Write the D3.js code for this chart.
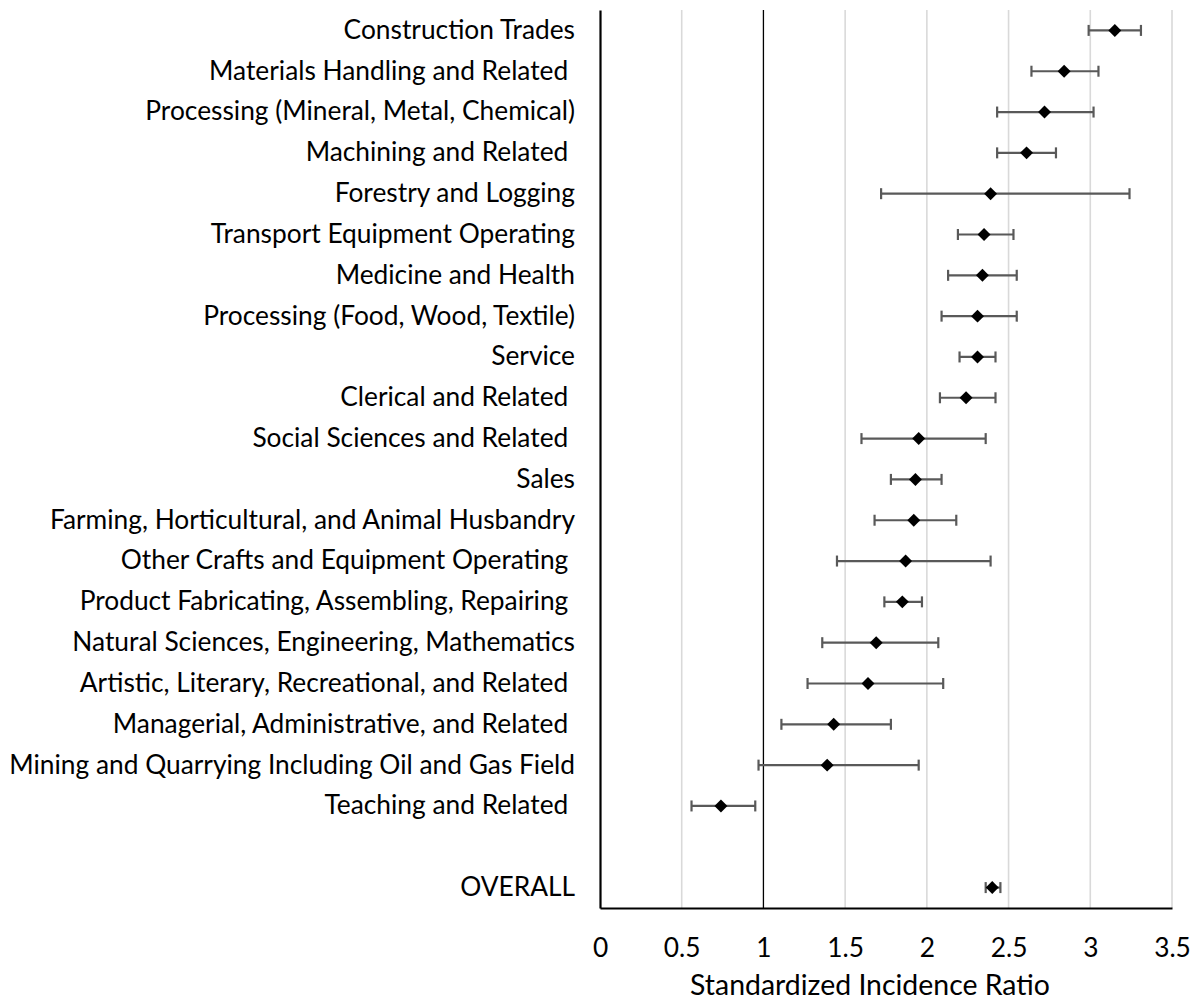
<!DOCTYPE html>
<html>
<head>
<meta charset="utf-8">
<script src="https://cdn.jsdelivr.net/npm/d3@7"></script>
<style>
  body { margin: 0; background: #fff; }
  svg { display: block; }
  text { font-family: Lato, "Open Sans", sans-serif; fill: #000; }
</style>
</head>
<body>
<svg id="chart" width="1191" height="1001"></svg>
<script>
// occupation groups, top to bottom (trailing spaces kept as in the source)
const occupations = [
  'Construction Trades',
  'Materials Handling and Related ',
  'Processing (Mineral, Metal, Chemical)',
  'Machining and Related ',
  'Forestry and Logging',
  'Transport Equipment Operating',
  'Medicine and Health',
  'Processing (Food, Wood, Textile)',
  'Service',
  'Clerical and Related ',
  'Social Sciences and Related ',
  'Sales',
  'Farming, Horticultural, and Animal Husbandry',
  'Other Crafts and Equipment Operating ',
  'Product Fabricating, Assembling, Repairing ',
  'Natural Sciences, Engineering, Mathematics',
  'Artistic, Literary, Recreational, and Related ',
  'Managerial, Administrative, and Related ',
  'Mining and Quarrying Including Oil and Gas Field',
  'Teaching and Related ',
  'OVERALL'
];
const sir = [3.15, 2.84, 2.72, 2.61, 2.39, 2.35, 2.34, 2.31, 2.31, 2.24, 1.95,
  1.93, 1.92, 1.87, 1.85, 1.69, 1.64, 1.43, 1.39, 0.74, 2.40];
const lower = [2.99, 2.64, 2.43, 2.43, 1.72, 2.19, 2.13, 2.09, 2.20, 2.08, 1.60,
  1.78, 1.68, 1.45, 1.74, 1.36, 1.27, 1.11, 0.97, 0.56, 2.36];
const upper = [3.31, 3.05, 3.02, 2.79, 3.24, 2.53, 2.55, 2.55, 2.42, 2.42, 2.36,
  2.09, 2.18, 2.39, 1.97, 2.07, 2.10, 1.78, 1.95, 0.95, 2.45];
const xTicks = [0, 0.5, 1, 1.5, 2, 2.5, 3, 3.5];
const xTitle = 'Standardized Incidence Ratio';

const margin = { top: 10, right: 19, bottom: 93, left: 600 };
const width = 1191 - margin.left - margin.right;
const height = 1001 - margin.top - margin.bottom;

const data = occupations.map((name, i) => ({ name, sir: sir[i], lo: lower[i], hi: upper[i] }));

// blank slot between the groups and the overall figure
const GAP = '__gap__';
const rows = occupations.slice(0, -1).concat([GAP, occupations[occupations.length - 1]]);

const svg = d3.select('#chart');
const g = svg.append('g').attr('transform', `translate(${margin.left},${margin.top})`);

const x = d3.scaleLinear().domain([0, 3.5]).range([0, width]);
const y = d3.scaleBand().domain(rows).range([0, height]);
const yc = (d) => y(d) + y.bandwidth() / 2;

// pick font sizes so the text fills the space the original uses
const fitSize = (str, target) => {
  const probe = svg.append('text').style('font-size', '100px').text(str);
  const s = (target / probe.node().getComputedTextLength()) * 100;
  probe.remove();
  return s;
};
const fontSize = fitSize(occupations[18], 566);
const titleSize = fitSize(xTitle, 360);

// gridlines
g.append('g')
  .selectAll('line')
  .data(xTicks.filter((t) => t !== 0 && t !== 1))
  .enter()
  .append('line')
  .attr('x1', (t) => x(t))
  .attr('x2', (t) => x(t))
  .attr('y1', 0)
  .attr('y2', height)
  .attr('stroke', '#d9d9d9')
  .attr('stroke-width', 1.6);

// reference line at SIR = 1
g.append('line')
  .attr('x1', x(1))
  .attr('x2', x(1))
  .attr('y1', 0)
  .attr('y2', height)
  .attr('stroke', '#000')
  .attr('stroke-width', 1.3);

// x axis
const xAxis = g
  .append('g')
  .attr('transform', `translate(0,${height})`)
  .call(d3.axisBottom(x).tickValues(xTicks).tickSize(0).tickPadding(30).tickFormat(d3.format('')));
xAxis.select('.domain').attr('stroke', '#000').attr('stroke-width', 2.2);
xAxis.selectAll('text').style('font-size', fontSize + 'px').attr('fill', '#000');

xAxis
  .append('text')
  .attr('x', 270)
  .attr('y', 87)
  .attr('text-anchor', 'middle')
  .attr('fill', '#000')
  .style('font-size', titleSize + 'px')
  .text(xTitle);

// y axis with category labels
const yAxis = g.append('g').call(
  d3.axisLeft(y)
    .tickSize(0)
    .tickPadding(25)
    .tickFormat((d) => (d === GAP ? '' : d))
);
yAxis.select('.domain').attr('stroke', '#000').attr('stroke-width', 2.2);
yAxis
  .selectAll('text')
  .style('font-size', fontSize + 'px')
  .style('white-space', 'pre')
  .attr('fill', '#000');

// error bars
const bars = g.append('g').selectAll('g').data(data).enter().append('g');
bars
  .append('line')
  .attr('x1', (d) => x(d.lo))
  .attr('x2', (d) => x(d.hi))
  .attr('y1', (d) => yc(d.name))
  .attr('y2', (d) => yc(d.name))
  .attr('stroke', '#595959')
  .attr('stroke-width', 2.2);
['lo', 'hi'].forEach((k) => {
  bars
    .append('line')
    .attr('x1', (d) => x(d[k]))
    .attr('x2', (d) => x(d[k]))
    .attr('y1', (d) => yc(d.name) - 5.5)
    .attr('y2', (d) => yc(d.name) + 5.5)
    .attr('stroke', '#595959')
    .attr('stroke-width', 2.2);
});

// diamond markers
g.append('g')
  .selectAll('path')
  .data(data)
  .enter()
  .append('path')
  .attr('d', d3.symbol(d3.symbolSquare, 84))
  .attr('transform', (d) => `translate(${x(d.sir)},${yc(d.name)}) rotate(45)`)
  .attr('fill', '#000');
</script>
</body>
</html>
